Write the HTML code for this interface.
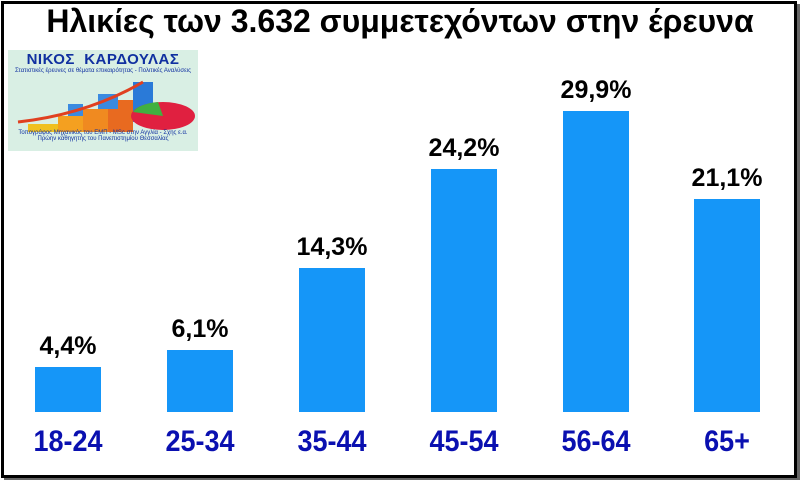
<!DOCTYPE html>
<html><head><meta charset="utf-8"><style>
body{margin:0;width:800px;height:480px;overflow:hidden;background:#fff;font-family:"Liberation Sans",Arial,sans-serif}
#f{position:absolute;left:1px;top:1px;width:790px;height:471px;border:3px solid #000;box-shadow:3px 3px 0 #666}
.t{position:absolute;left:0;width:800px;top:3px;text-align:center;font-weight:bold;font-size:32px;color:#000}
.b{position:absolute;background:#1596f8;width:66px}
.v{position:absolute;width:120px;text-align:center;font-weight:bold;font-size:25px;color:#000}
.c{position:absolute;width:140px;text-align:center;font-weight:bold;font-size:27px;color:#0a10b0;top:426px;transform:scaleY(1.1)}
#logo{position:absolute;left:8px;top:50px;width:190px;height:101px;background:#d9efe4;font-size:7px;text-align:center}
</style></head><body>
<div id="f"></div>
<div class="t">Ηλικίες των 3.632 συμμετεχόντων στην έρευνα</div>
<div id="logo">
<div style="font-weight:bold;font-size:15px;color:#1030a0;margin-top:1px;letter-spacing:.5px">ΝΙΚΟΣ&nbsp; ΚΑΡΔΟΥΛΑΣ</div>
<div style="color:#1030a0;font-size:6px">Στατιστικές έρευνες σε θέματα επικαιρότητας - Πολιτικές Αναλύσεις</div>
<svg width="190" height="60" style="display:block">
<rect x="20" y="50" width="30" height="8" fill="#f0c020"/><rect x="50" y="42" width="25" height="16" fill="#f4a020"/>
<rect x="75" y="35" width="25" height="23" fill="#f08a20"/><rect x="100" y="26" width="25" height="32" fill="#e86a20"/>
<rect x="60" y="30" width="15" height="12" fill="#3a8ae0"/><rect x="90" y="20" width="20" height="15" fill="#3a8ae0"/>
<rect x="125" y="8" width="20" height="40" fill="#2a7ad8"/>
<path d="M10 48 Q80 40 135 8" stroke="#e04020" stroke-width="3" fill="none"/>
<ellipse cx="155" cy="42" rx="32" ry="14" fill="#e02040"/><path d="M155 42 L125 38 A32 14 0 0 1 150 28 Z" fill="#40b040"/>
</svg>
<div style="color:#1030a0;font-size:6px;margin-top:-4px">Τοπογράφος Μηχανικός του ΕΜΠ - MSc στην Αγγλία - Σχης ε.α.<br>Πρώην καθηγητής του Πανεπιστημίου Θεσσαλίας</div>
</div>
<div class="b" style="left:35px;top:367px;height:45px"></div>
<div class="b" style="left:167px;top:350px;height:62px"></div>
<div class="b" style="left:299px;top:268px;height:144px"></div>
<div class="b" style="left:431px;top:169px;height:243px"></div>
<div class="b" style="left:563px;top:111px;height:301px"></div>
<div class="b" style="left:694px;top:199px;height:213px"></div>
<div class="v" style="left:8px;top:332px">4,4%</div>
<div class="v" style="left:140px;top:315px">6,1%</div>
<div class="v" style="left:272px;top:233px">14,3%</div>
<div class="v" style="left:404px;top:134px">24,2%</div>
<div class="v" style="left:536px;top:76px">29,9%</div>
<div class="v" style="left:667px;top:164px">21,1%</div>
<div class="c" style="left:-2px">18-24</div>
<div class="c" style="left:130px">25-34</div>
<div class="c" style="left:262px">35-44</div>
<div class="c" style="left:394px">45-54</div>
<div class="c" style="left:526px">56-64</div>
<div class="c" style="left:657px">65+</div>
</body></html>
